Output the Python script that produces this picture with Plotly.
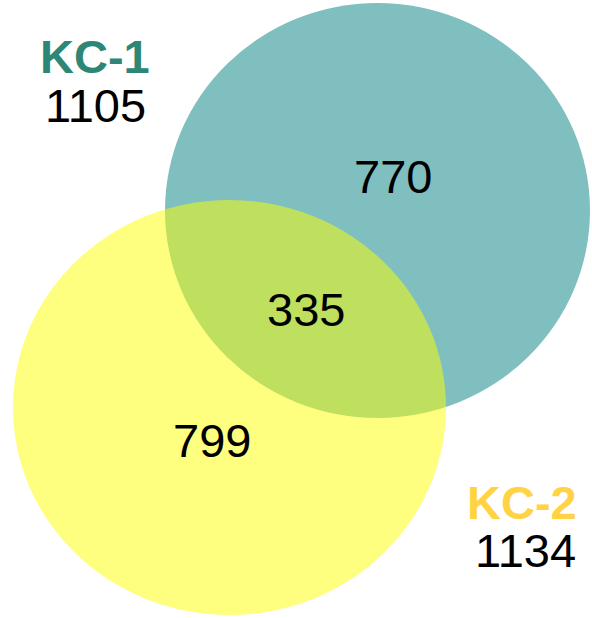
import plotly.graph_objects as go

# Data
set_names = ["KC-1", "KC-2"]
set_totals = [1105, 1134]
region_labels = ["KC-1 only", "KC-1 & KC-2", "KC-2 only"]
region_counts = [770, 335, 799]

# Styling / layout (pixel space)
W, H = 592, 618
set_fill = ["rgba(0,128,128,0.5)", "rgba(255,255,0,0.5)"]
set_title_color = ["#2E8677", "#FFD343"]
set_ellipses = [(165, 590, 3, 418), (13, 446, 200, 615)]
set_title_pos = [(95, 56), (522, 502)]
set_total_pos = [(95, 105), (525, 550)]
region_pos = [(393, 176), (306, 309), (212, 440)]
FONT = "Liberation Sans, Arial, sans-serif"
FS = 47

fig = go.Figure()
shapes = []
for (x0, x1, y0, y1), fill in zip(set_ellipses, set_fill):
    shapes.append(dict(type="circle", xref="x", yref="y", x0=x0, x1=x1, y0=y0, y1=y1,
                       fillcolor=fill, line=dict(width=0), layer="below"))

annotations = []
for name, total, col, tp, np_ in zip(set_names, set_totals, set_title_color, set_title_pos, set_total_pos):
    annotations.append(dict(x=tp[0], y=tp[1], text=f"<b>{name}</b>", showarrow=False,
                            font=dict(family=FONT, size=FS, color=col),
                            xanchor="center", yanchor="middle"))
    annotations.append(dict(x=np_[0], y=np_[1], text=str(total), showarrow=False,
                            font=dict(family=FONT, size=FS, color="black"),
                            xanchor="center", yanchor="middle"))
for lab, cnt, p in zip(region_labels, region_counts, region_pos):
    annotations.append(dict(x=p[0], y=p[1], text=str(cnt), showarrow=False,
                            font=dict(family=FONT, size=FS, color="black"),
                            xanchor="center", yanchor="middle"))

fig.add_trace(go.Scatter(x=[0, W], y=[0, H], mode="markers",
                         marker=dict(opacity=0), hoverinfo="skip", showlegend=False))

fig.update_layout(
    width=W, height=H,
    margin=dict(l=0, r=0, t=0, b=0),
    paper_bgcolor="white", plot_bgcolor="white",
    xaxis=dict(range=[0, W], visible=False, fixedrange=True),
    yaxis=dict(range=[H, 0], visible=False, fixedrange=True),
    shapes=shapes, annotations=annotations,
    showlegend=False,
)
fig.write_html("out.html", config={"displayModeBar": False},
               post_script="document.body.style.margin='0';document.body.style.overflow='hidden';")
